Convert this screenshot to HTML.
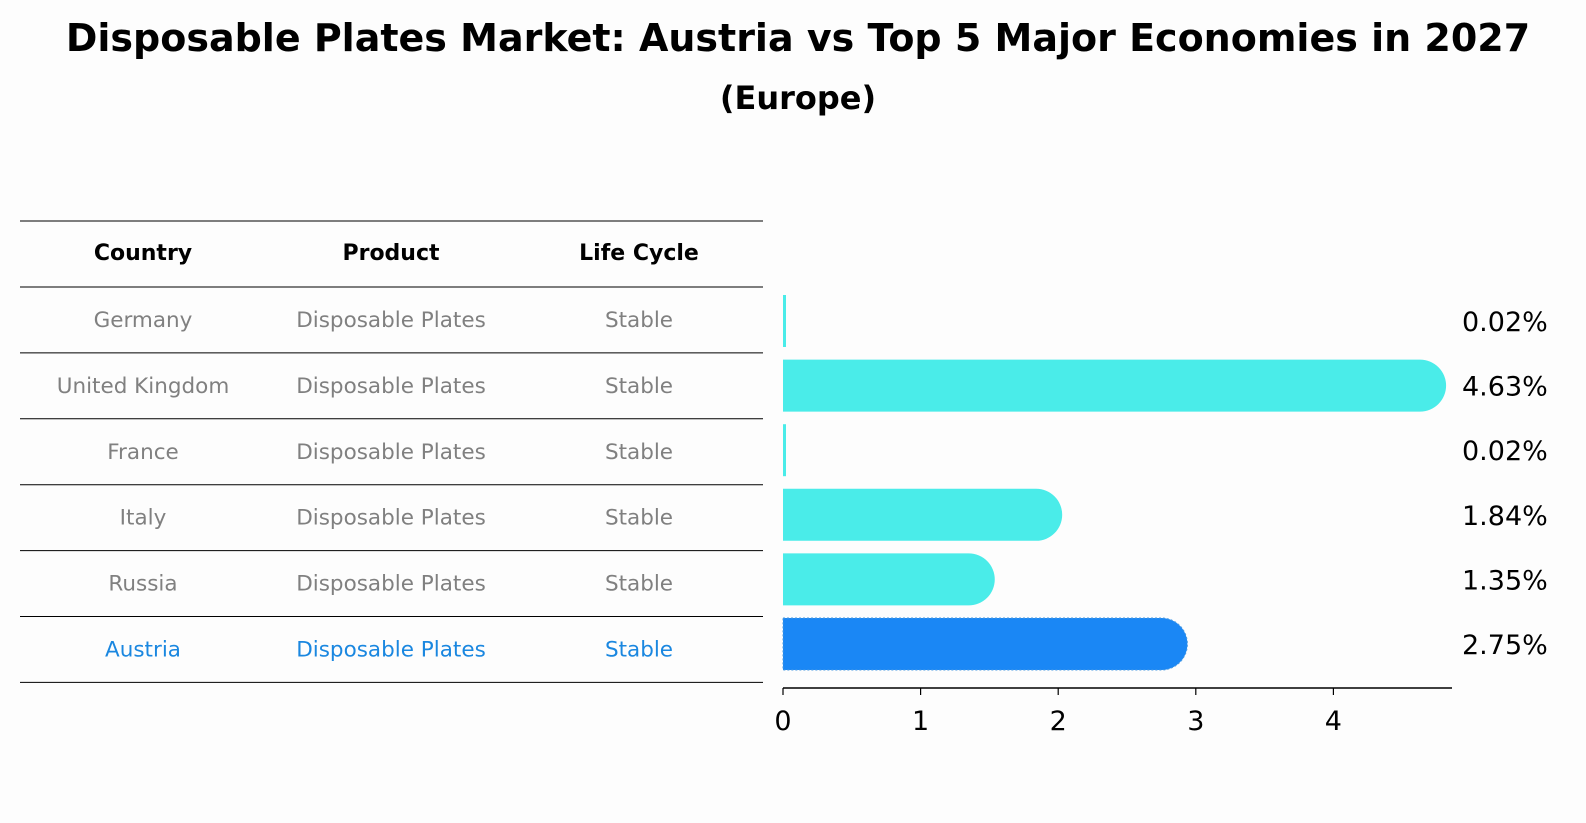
<!DOCTYPE html>
<html><head><meta charset="utf-8"><style>
body{margin:0;background:#fdfdfd;}
svg{display:block;font-family:"DejaVu Sans","Liberation Sans",sans-serif;}
</style></head><body>
<svg id="chart" width="1586" height="823" viewBox="0 0 1586 823">
<rect width="1586" height="823" fill="#fdfdfd"/>
<text x="798" y="51" text-anchor="middle" font-size="38" font-weight="bold" fill="#000">Disposable Plates Market: Austria vs Top 5 Major Economies in 2027</text>
<text x="798" y="109" text-anchor="middle" font-size="32" font-weight="bold" fill="#000">(Europe)</text>
<g id="table"></g>
<g id="bars"></g>
</svg>
<script>
const countries=["Germany","United Kingdom","France","Italy","Russia","Austria"];
const products=["Disposable Plates","Disposable Plates","Disposable Plates","Disposable Plates","Disposable Plates","Disposable Plates"];
const lifeCycles=["Stable","Stable","Stable","Stable","Stable","Stable"];
const values=[0.02,4.63,0.02,1.84,1.35,2.75];
const xTicks=[0,1,2,3,4];
const NS="http://www.w3.org/2000/svg";
function mk(tag,attrs,parent,text){const e=document.createElementNS(NS,tag);for(const k in attrs)e.setAttribute(k,attrs[k]);if(text!==undefined)e.textContent=text;parent.appendChild(e);return e;}
const table=document.getElementById('table');
const bars=document.getElementById('bars');
const rowTop=287,rowH=65.9,colX=[143,391,639];
function yRow(i){return rowTop+rowH*i+rowH/2;}
let l=mk('line',{x1:20,x2:763,y1:221,y2:221,stroke:'#000','stroke-width':1},table);


for(let i=0;i<=countries.length;i++){
  const y=rowTop+rowH*i;
  const ln=mk('line',{x1:20,x2:763,y1:y,y2:y,stroke:'#000','stroke-width':1},table);
  
  
}
const headers=["Country","Product","Life Cycle"];
headers.forEach((h,j)=>{
  const t=mk('text',{x:colX[j],y:260,'text-anchor':'middle','font-size':22,'font-weight':'bold',fill:'#000'},table,h);
  
  
});
countries.forEach((c,i)=>{
  const col=c==="Austria"?'#1a87e0':'#808080';
  [c,products[i],lifeCycles[i]].forEach((v,j)=>{
    const t=mk('text',{x:colX[j],y:yRow(i)+7,'text-anchor':'middle','font-size':21.5,fill:col},table,v);
    
    
  });
});
const x0=783,scale=137.6,barH=52;
function xs(v){return x0+v*scale;}
function yBar(i){return 321+i*64.6;}
values.forEach((v,i)=>{
  const w=xs(v)-x0,y=yBar(i)-barH/2;
  const isA=countries[i]==="Austria";
  let d;
  if(w<10){d=`M${x0},${y} H${x0+3} V${y+barH} H${x0} Z`;}
  else{d=`M${x0},${y} H${x0+w} A26,${barH/2} 0 0 1 ${x0+w},${y+barH} H${x0} Z`;}
  const p=mk('path',{d:d,fill:isA?'#1a87f5':'#4aece9',stroke:isA?'#4a9ae0':'none','stroke-dasharray':isA?'2,2':'none','stroke-width':1},bars);
  
  
  const t=mk('text',{x:1462,y:yBar(i)+10,'font-size':27,fill:'#000'},bars,v.toFixed(2)+'%');
  
  
});
const ax=mk('line',{x1:x0,x2:1452,y1:688,y2:688,stroke:'#000','stroke-width':1.5},bars);


xTicks.forEach(tv=>{
  const tk=mk('line',{x1:xs(tv),x2:xs(tv),y1:688,y2:695,stroke:'#000','stroke-width':1.2},bars);
  
  
  const tl=mk('text',{x:xs(tv),y:730,'text-anchor':'middle','font-size':27,fill:'#000'},bars,String(tv));
  
  
});
</script>
</body></html>
